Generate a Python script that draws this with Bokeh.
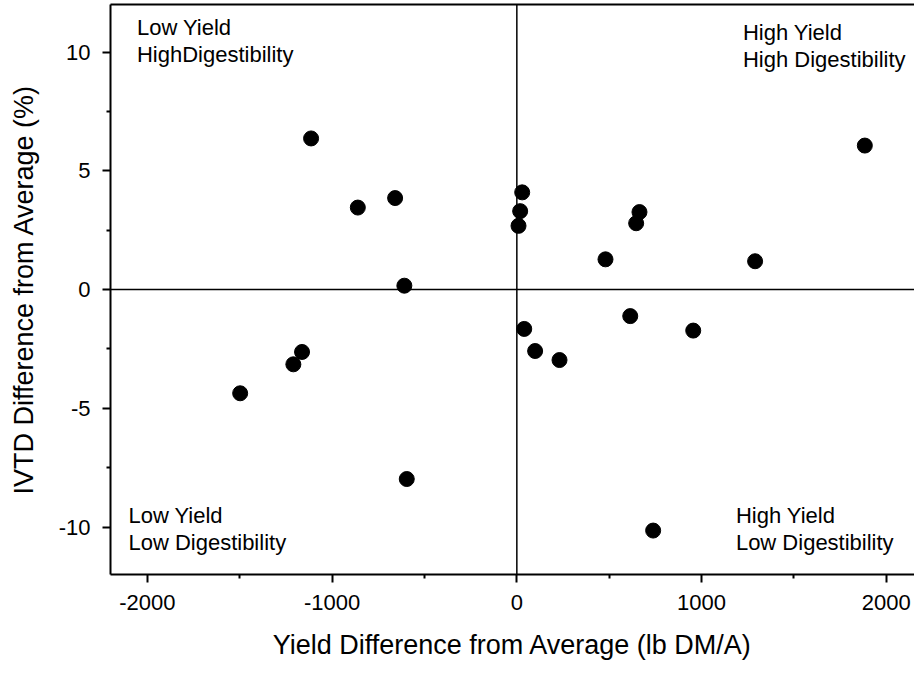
from bokeh.plotting import figure
from bokeh.models import Range1d, FixedTicker, Span, Label, LinearAxis
from bokeh.embed import file_html
from bokeh.resources import INLINE

# Data
yield_diff = [-1114, -861, -659, -609, 29, 18, 9, 664, 646, 480, 1290, 1884,
              614, -1163, -1210, -1498, -596, 40, 99, 231, 955, 738]
ivtd_diff = [6.36, 3.45, 3.85, 0.16, 4.09, 3.30, 2.68, 3.26, 2.79, 1.27, 1.19, 6.06,
             -1.12, -2.63, -3.15, -4.37, -7.98, -1.66, -2.59, -2.97, -1.73, -10.15]

x_ticks = [-2000, -1000, 0, 1000, 2000]
x_tick_labels = ["-2000", "-1000", "0", "1000", "2000"]
x_minor = [-1500, -500, 500, 1500]
y_ticks = [-10, -5, 0, 5, 10]
y_tick_labels = ["-10", "-5", "0", "5", "10"]
y_minor = [-7.5, -2.5, 2.5, 7.5]

x_title = "Yield Difference from Average (lb DM/A)"
y_title = "IVTD Difference from Average (%)"

quad_labels = ["Low Yield\nHighDigestibility", "High Yield\nHigh Digestibility",
               "Low Yield\nLow Digestibility", "High Yield\nLow Digestibility"]
quad_x = [-2057, 1224, -2103, 1186]
quad_y = [11.55, 11.35, -9.0, -9.0]

FONT = "Liberation Sans"

p = figure(width=914, height=673, x_range=Range1d(-2200, 2153), y_range=Range1d(-12, 12),
           output_backend="svg", toolbar_location=None,
           min_border_left=110, min_border_right=0, min_border_top=4, min_border_bottom=99)
p.outline_line_color = None
p.grid.visible = False
p.background_fill_color = "white"
p.border_fill_color = "white"

for ax, ticks, labels, minor, title in [(p.below[0], x_ticks, x_tick_labels, x_minor, x_title),
                                        (p.left[0], y_ticks, y_tick_labels, y_minor, y_title)]:
    ax.ticker = FixedTicker(ticks=ticks, minor_ticks=minor)
    ax.major_label_overrides = dict(zip(ticks, labels))
    ax.axis_label = title
    ax.axis_label_text_font = FONT
    ax.axis_label_text_font_size = "27px"
    ax.axis_label_text_font_style = "normal"
    ax.axis_label_text_color = "black"
    ax.axis_label_standoff = 17
    ax.major_label_text_font = FONT
    ax.major_label_text_font_size = "22px"
    ax.major_label_text_color = "black"
    ax.major_label_standoff = 12
    ax.axis_line_color = "black"
    ax.axis_line_width = 2
    ax.major_tick_line_color = "black"
    ax.major_tick_line_width = 2
    ax.minor_tick_line_color = "black"
    ax.minor_tick_line_width = 2
    ax.major_tick_in = 0
    ax.major_tick_out = 8
    ax.minor_tick_in = 0
    ax.minor_tick_out = 4

top = LinearAxis(ticker=FixedTicker(ticks=[]), major_tick_out=0, major_tick_in=0,
                 minor_tick_out=0, minor_tick_in=0, major_label_standoff=0,
                 axis_line_color="black", axis_line_width=2)
p.add_layout(top, "above")

p.add_layout(Span(location=0, dimension="height", line_color="black", line_width=1.5))
p.add_layout(Span(location=0, dimension="width", line_color="black", line_width=1.5))

p.scatter(yield_diff, ivtd_diff, size=15, color="black", marker="circle")

for t, x, y in zip(quad_labels, quad_x, quad_y):
    p.add_layout(Label(x=x, y=y, text=t, text_font=FONT, text_font_size="22px",
                       text_baseline="top", text_align="left", text_color="black",
                       text_line_height=1.085))

open("out.html", "w").write(file_html(p, INLINE))
